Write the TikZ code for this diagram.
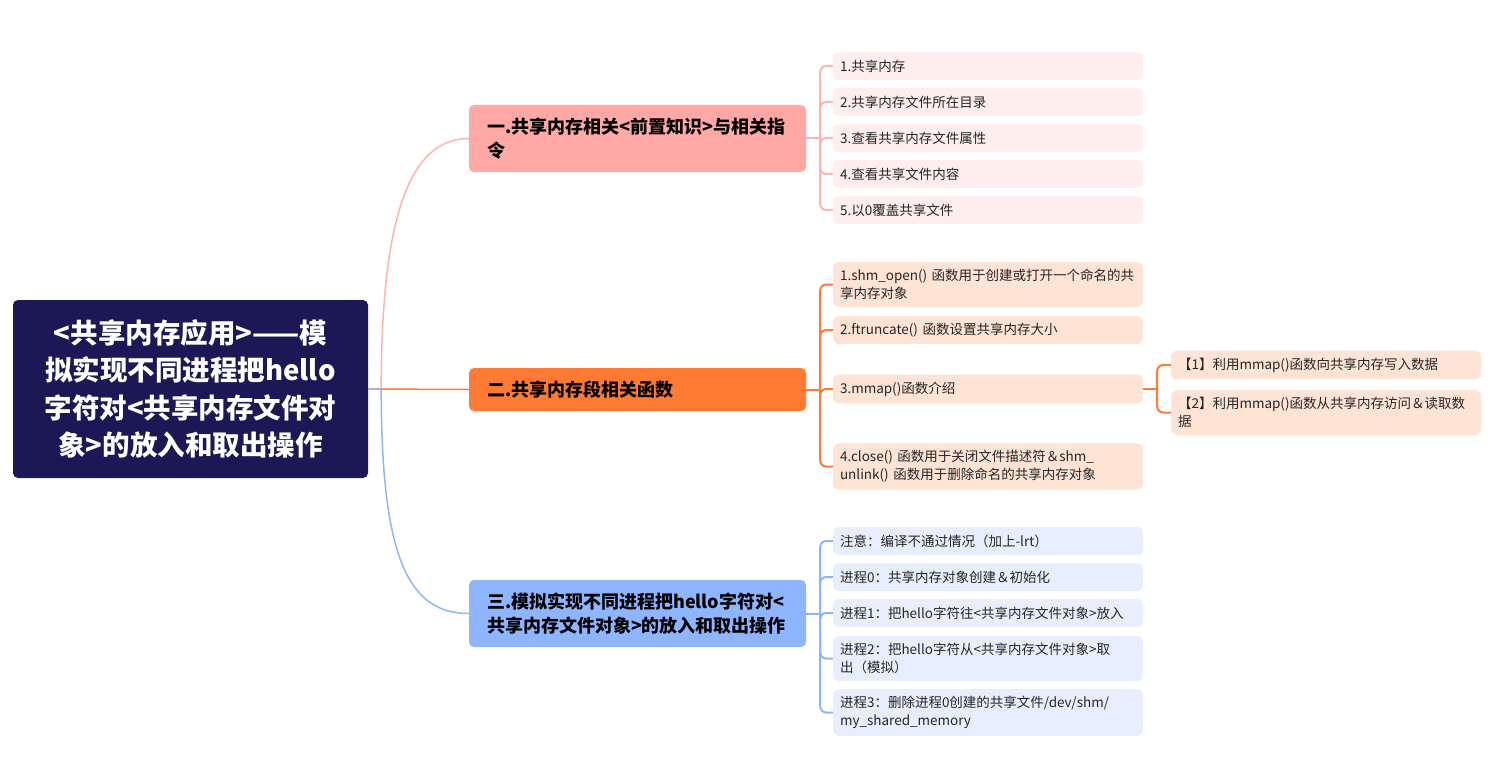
\documentclass[tikz,border=0pt]{standalone}
\usepackage{fontspec}
\setmainfont{Noto Sans CJK SC}
\usepackage{xcolor}
\usetikzlibrary{positioning}

\definecolor{rootfill}{HTML}{1C1856}
\definecolor{pinkfill}{HTML}{FFA8A5}
\definecolor{orangefill}{HTML}{FF7A32}
\definecolor{bluefill}{HTML}{8EB5FF}
\definecolor{pinkleaf}{HTML}{FFEEED}
\definecolor{orangeleaf}{HTML}{FFE4D6}
\definecolor{blueleaf}{HTML}{E7EFFF}
\definecolor{pinkline}{HTML}{FFB2AF}
\definecolor{orangeline}{HTML}{FF7B33}
\definecolor{blueline}{HTML}{8FB4FF}

\begin{document}
\begin{tikzpicture}[
  x=1pt, y=-1pt,
  root/.style={rectangle, rounded corners=5pt, fill=rootfill, text=white, minimum width=355pt, minimum height=178pt, align=center, font=\fontsize{27.5}{37.5}\selectfont\bfseries},
  topic/.style={rectangle, rounded corners=5pt, minimum width=337pt, minimum height=43pt, inner xsep=18pt, text width=301pt, align=left, font=\fontsize{18}{23.5}\selectfont\bfseries},
  leaf/.style={rectangle, rounded corners=6pt, minimum width=310pt, minimum height=28pt, inner xsep=7pt, inner ysep=7pt, text width=296pt, align=left, text=black!85, font=\fontsize{13.5}{18}\selectfont},
  link/.style={line width=1.5pt},
  fork/.style={line width=2pt, rounded corners=6pt}
]
\useasboundingbox (0,0) rectangle (1498,762);

% Root
\node[root] (root) at (190.5,389) {<共享内存应用>——模\\拟实现不同进程把hello\\字符对<共享内存文件对\\象>的放入和取出操作};

% Topics
\node[topic, fill=pinkfill, minimum height=67pt] (t1) at (637.5,138.5) {一.共享内存相关<前置知识>与相关指\\令};
\node[topic, fill=orangefill] (t2) at (637.5,389.5) {二.共享内存段相关函数};
\node[topic, fill=bluefill, minimum height=67pt] (t3) at (637.5,613.5) {三.模拟实现不同进程把hello字符对<\\共享内存文件对象>的放入和取出操作};

% Topic 1 leaves
\node[leaf, fill=pinkleaf] (l11) at (988,66) {1.共享内存};
\node[leaf, fill=pinkleaf] (l12) at (988,102) {2.共享内存文件所在目录};
\node[leaf, fill=pinkleaf] (l13) at (988,138) {3.查看共享内存文件属性};
\node[leaf, fill=pinkleaf] (l14) at (988,174) {4.查看共享文件内容};
\node[leaf, fill=pinkleaf] (l15) at (988,210) {5.以0覆盖共享文件};

% Topic 2 leaves
\node[leaf, fill=orangeleaf] (l21) at (988,284.5) {1.shm\_open() 函数用于创建或打开一个命名的共\\享内存对象};
\node[leaf, fill=orangeleaf] (l22) at (988,330) {2.ftruncate() 函数设置共享内存大小};
\node[leaf, fill=orangeleaf] (l23) at (988,389) {3.mmap()函数介绍};
\node[leaf, fill=orangeleaf] (l24) at (988,466.5) {4.close() 函数用于关闭文件描述符＆shm\_\\unlink() 函数用于删除命名的共享内存对象};

% mmap sub-leaves
\node[leaf, fill=orangeleaf] (s1) at (1326,365) {【1】利用mmap()函数向共享内存写入数据};
\node[leaf, fill=orangeleaf] (s2) at (1326,412.5) {【2】利用mmap()函数从共享内存访问＆读取数\\据};

% Topic 3 leaves
\node[leaf, fill=blueleaf] (l31) at (988,541) {注意：编译不通过情况（加上-lrt）};
\node[leaf, fill=blueleaf] (l32) at (988,577) {进程0：共享内存对象创建＆初始化};
\node[leaf, fill=blueleaf] (l33) at (988,613) {进程1：把hello字符往<共享内存文件对象>放入};
\node[leaf, fill=blueleaf] (l34) at (988,658.5) {进程2：把hello字符从<共享内存文件对象>取\\出（模拟）};
\node[leaf, fill=blueleaf] (l35) at (988,712.5) {进程3：删除进程0创建的共享文件/dev/shm/\\my\_shared\_memory};

% Root to topics
\coordinate (rj) at ([xshift=13pt]root.east);
\draw[link, pinkline] (root.east) -- (rj) .. controls +(0,-170) and +(-60,0) .. (t1.west);
\draw[link, orangeline] (root.east) -- (t2.west);
\draw[link, blueline] (root.east) -- (rj) .. controls +(0,170) and +(-60,0) .. (t3.west);

% Forks
\coordinate (j1) at ([xshift=14pt]t1.east);
\coordinate (j2) at ([xshift=14pt]t2.east);
\coordinate (j3) at ([xshift=14pt]t3.east);
\coordinate (js) at ([xshift=14pt]l23.east);
\draw[fork, pinkline] (t1.east) -- (j1);
\foreach \n in {l11,l12,l13,l14,l15}
  \draw[fork, pinkline] (j1) |- (\n.west);
\draw[fork, orangeline] (t2.east) -- (j2);
\foreach \n in {l21,l22,l23,l24}
  \draw[fork, orangeline] (j2) |- (\n.west);
\draw[fork, orangeline] (l23.east) -- (js);
\foreach \n in {s1,s2}
  \draw[fork, orangeline] (js) |- (\n.west);
\draw[fork, blueline] (t3.east) -- (j3);
\foreach \n in {l31,l32,l33,l34,l35}
  \draw[fork, blueline] (j3) |- (\n.west);

\end{tikzpicture}
\end{document}
